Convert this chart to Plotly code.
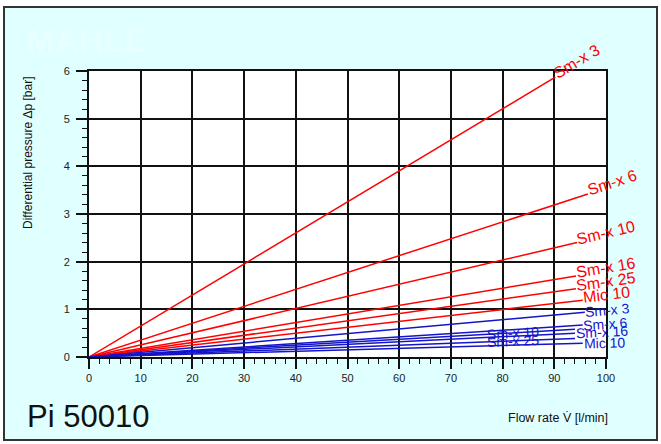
import math
import plotly.graph_objects as go

# ---- data ----
red_names = ["Sm-x 3", "Sm-x 6", "Sm-x 10", "Sm-x 16", "Sm-x 25", "Mic 10"]
red_x_end = [90.2, 96.5, 94.4, 94.2, 94.2, 95.5]
red_y_end = [5.87, 3.42, 2.40, 1.70, 1.43, 1.19]

blue_names = ["Sm-x 3", "Sm-x 6", "Sm-x 10", "Sm-x 16", "Sm-x 25", "Mic 10"]
blue_x_end = [95.9, 95.5, 94.0, 94.0, 94.0, 95.5]
blue_y_end = [0.94, 0.67, 0.58, 0.50, 0.39, 0.29]
blue_label_at_end = [True, True, False, True, False, True]
blue_mid_label_x = 82

x_tick_vals = [0, 10, 20, 30, 40, 50, 60, 70, 80, 90, 100]
y_tick_vals = [0, 1, 2, 3, 4, 5, 6]

title_text = "Pi 50010"
x_title = "Flow rate V\u0307 [l/min]"
y_title = "Differential pressure \u0394p [bar]"
watermark = "MAHLE"

# ---- layout geometry ----
W, H = 661, 444
L, R, T, B = 89, 55, 71, 87
PW, PH = W - L - R, H - T - B
X_RANGE, Y_RANGE = [0, 100], [0, 6]
PX_X = PW / (X_RANGE[1] - X_RANGE[0])
PX_Y = PH / (Y_RANGE[1] - Y_RANGE[0])

RED = "#ff0000"
BLUE = "#1414c8"
BG = "#e0ffff"
FONT = "Liberation Sans, Arial, sans-serif"


def px2paper(px, py):
    return (px - L) / PW, (H - B - py) / PH


CW = {"S": .667, "M": .833, "m": .833, "i": .222, "c": .5, "x": .5,
      "-": .333, " ": .278}


def text_w(s, size):
    return sum(CW.get(ch, .556) for ch in s) * size


fig = go.Figure()
annotations = []


def add_series(names, xe, ye, color, size, offset, at_end):
    for k, name in enumerate(names):
        fig.add_trace(go.Scatter(x=[0, xe[k]], y=[0, ye[k]], mode="lines",
                                 line=dict(color=color, width=1.5),
                                 showlegend=False, hoverinfo="skip"))
        slope = ye[k] / xe[k]
        a = math.atan(slope * PX_Y / PX_X)
        if at_end[k]:
            half = text_w(name, size) / 2 + 1
            ax, ay = xe[k], ye[k]
            xs = half * math.cos(a) - offset * math.sin(a)
            ys = half * math.sin(a) + offset * math.cos(a)
        else:
            ax = blue_mid_label_x
            ay = slope * ax
            xs, ys = 0, 0
        annotations.append(dict(x=ax, y=ay, xref="x", yref="y", text=name,
                                showarrow=False, textangle=-math.degrees(a),
                                xanchor="center", yanchor="middle",
                                xshift=xs, yshift=ys,
                                font=dict(family=FONT, size=size, color=color)))


add_series(red_names, red_x_end, red_y_end, RED, 16, 3, [True] * len(red_names))
add_series(blue_names, blue_x_end, blue_y_end, BLUE, 14, 0, blue_label_at_end)


def paper_text(px, py, text, size, color="#111", xanchor="center", angle=0,
               weight="normal"):
    x, y = px2paper(px, py)
    annotations.append(dict(x=x, y=y, xref="paper", yref="paper", text=text,
                            showarrow=False, xanchor=xanchor, yanchor="middle",
                            textangle=angle,
                            font=dict(family=FONT, size=size, color=color,
                                      weight=weight)))


paper_text(86, 40, watermark, 34, color="#e7ffff", weight="bold")
paper_text(25, 416, title_text, 31, xanchor="left")
paper_text(558, 418, x_title, 12.5)
paper_text(28, 153, y_title, 12, angle=-90)

bx0, by1 = px2paper(4, 7)
bx1, by0 = px2paper(657, 440)

axis_common = dict(showline=True, linecolor="#111", linewidth=2, mirror=True,
                   showgrid=True, gridcolor="#111", gridwidth=1.8,
                   ticks="outside", tickcolor="#111", tickwidth=1.5,
                   tickfont=dict(family=FONT, size=11, color="#222"),
                   zeroline=False, fixedrange=True)

fig.update_layout(
    width=W, height=H,
    margin=dict(l=L, r=R, t=T, b=B, pad=0),
    paper_bgcolor="white", plot_bgcolor="white",
    xaxis=dict(range=X_RANGE, tickvals=x_tick_vals, ticklen=10,
               minor=dict(dtick=2, ticks="outside", ticklen=5,
                          tickcolor="#111", tickwidth=1.2, showgrid=False),
               **axis_common),
    yaxis=dict(range=Y_RANGE, tickvals=y_tick_vals, ticklen=11,
               ticklabelstandoff=4,
               minor=dict(dtick=0.2, ticks="outside", ticklen=5,
                          tickcolor="#111", tickwidth=1.2, showgrid=False),
               **axis_common),
    shapes=[dict(type="rect", xref="paper", yref="paper",
                 x0=bx0, x1=bx1, y0=by0, y1=by1,
                 fillcolor=BG, line=dict(color="#333", width=2), layer="below"),
            dict(type="rect", xref="paper", yref="paper",
                 x0=0, x1=1, y0=0, y1=1,
                 fillcolor="white", line=dict(width=0), layer="below")],
    annotations=annotations,
    showlegend=False,
)

fig.write_html("out.html", config={"displayModeBar": False},
               post_script="document.body.style.margin='0';")
